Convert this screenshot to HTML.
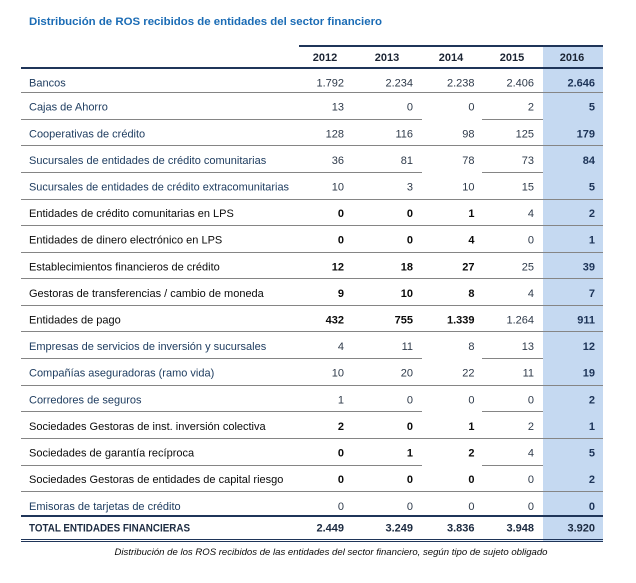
<!DOCTYPE html>
<html><head><meta charset="utf-8"><style>
html,body{margin:0;padding:0;background:#fff;}
svg{display:block;}
text{font-family:"Liberation Sans",Arial,sans-serif;}
.lb{font-size:11px;fill:#1f3d60;}
.lk{font-size:11px;fill:#0a0a0a;}
.n{font-size:11px;fill:#2e3a4a;text-anchor:end;}
.nk{font-size:11px;fill:#0a0a0a;text-anchor:end;font-weight:bold;}
.nb{font-size:11px;fill:#1c3357;text-anchor:end;font-weight:bold;}
.hy{font-size:11px;fill:#1b2433;font-weight:bold;text-anchor:middle;}
</style></head><body>
<svg width="636" height="583" viewBox="0 0 636 583" xmlns="http://www.w3.org/2000/svg" shape-rendering="crispEdges">
<rect x="0" y="0" width="636" height="583" fill="#fff"/>
<rect x="543" y="45" width="60" height="497" fill="#c5d9f1"/>
<text x="29" y="25" font-size="11.4" font-weight="bold" fill="#1b6cb5" textLength="353" lengthAdjust="spacingAndGlyphs">Distribución de ROS recibidos de entidades del sector financiero</text>
<rect x="299" y="45" width="304" height="2" fill="#1f3559"/>
<rect x="21" y="67" width="582" height="2" fill="#1f3559"/>
<text class="hy" x="325" y="61">2012</text>
<text class="hy" x="387" y="61">2013</text>
<text class="hy" x="451" y="61">2014</text>
<text class="hy" x="512" y="61">2015</text>
<text class="hy" x="572" y="61">2016</text>

<g fill="#858585">
<rect x="21" y="92" width="582" height="1"/>
<rect x="21" y="119" width="401" height="1"/><rect x="482" y="119" width="61" height="1"/>
<rect x="21" y="145" width="582" height="1"/>
<rect x="21" y="172" width="401" height="1"/><rect x="482" y="172" width="61" height="1"/>
<rect x="21" y="199" width="582" height="1"/>
<rect x="21" y="225" width="582" height="1"/>
<rect x="21" y="252" width="582" height="1"/>
<rect x="21" y="278" width="582" height="1"/>
<rect x="21" y="305" width="582" height="1"/>
<rect x="21" y="331" width="582" height="1"/>
<rect x="21" y="358" width="401" height="1"/><rect x="482" y="358" width="61" height="1"/>
<rect x="21" y="385" width="582" height="1"/>
<rect x="21" y="411" width="401" height="1"/><rect x="482" y="411" width="61" height="1"/>
<rect x="21" y="438" width="582" height="1"/>
<rect x="21" y="465" width="401" height="1"/><rect x="482" y="465" width="61" height="1"/>
<rect x="21" y="491" width="582" height="1"/>
</g>
<rect x="21" y="515" width="582" height="2" fill="#1f3559"/>
<rect x="21" y="539" width="582" height="1" fill="#1f3559"/>
<rect x="21" y="541" width="582" height="1" fill="#1f3559"/>

<g>
<text class="lb" x="29" y="86.5">Bancos</text>
<text class="n" x="344" y="86.5">1.792</text><text class="n" x="413" y="86.5">2.234</text><text class="n" x="474.5" y="86.5">2.238</text><text class="n" x="534" y="86.5">2.406</text><text class="nb" x="595" y="86.5">2.646</text>

<text class="lb" x="29" y="110.7">Cajas de Ahorro</text>
<text class="n" x="344" y="110.7">13</text><text class="n" x="413" y="110.7">0</text><text class="n" x="474.5" y="110.7">0</text><text class="n" x="534" y="110.7">2</text><text class="nb" x="595" y="110.7">5</text>

<text class="lb" x="29" y="137.3">Cooperativas de crédito</text>
<text class="n" x="344" y="137.3">128</text><text class="n" x="413" y="137.3">116</text><text class="n" x="474.5" y="137.3">98</text><text class="n" x="534" y="137.3">125</text><text class="nb" x="595" y="137.3">179</text>

<text class="lb" x="29" y="163.9">Sucursales de entidades de crédito comunitarias</text>
<text class="n" x="344" y="163.9">36</text><text class="n" x="413" y="163.9">81</text><text class="n" x="474.5" y="163.9">78</text><text class="n" x="534" y="163.9">73</text><text class="nb" x="595" y="163.9">84</text>

<text class="lb" x="29" y="190.5" textLength="260" lengthAdjust="spacingAndGlyphs">Sucursales de entidades de crédito extracomunitarias</text>
<text class="n" x="344" y="190.5">10</text><text class="n" x="413" y="190.5">3</text><text class="n" x="474.5" y="190.5">10</text><text class="n" x="534" y="190.5">15</text><text class="nb" x="595" y="190.5">5</text>

<text class="lk" x="29" y="217.1">Entidades de crédito comunitarias en LPS</text>
<text class="nk" x="344" y="217.1">0</text><text class="nk" x="413" y="217.1">0</text><text class="nk" x="474.5" y="217.1">1</text><text class="n" x="534" y="217.1">4</text><text class="nb" x="595" y="217.1">2</text>

<text class="lk" x="29" y="243.7">Entidades de dinero electrónico en LPS</text>
<text class="nk" x="344" y="243.7">0</text><text class="nk" x="413" y="243.7">0</text><text class="nk" x="474.5" y="243.7">4</text><text class="n" x="534" y="243.7">0</text><text class="nb" x="595" y="243.7">1</text>

<text class="lk" x="29" y="270.3">Establecimientos financieros de crédito</text>
<text class="nk" x="344" y="270.3">12</text><text class="nk" x="413" y="270.3">18</text><text class="nk" x="474.5" y="270.3">27</text><text class="n" x="534" y="270.3">25</text><text class="nb" x="595" y="270.3">39</text>

<text class="lk" x="29" y="296.9">Gestoras de transferencias / cambio de moneda</text>
<text class="nk" x="344" y="296.9">9</text><text class="nk" x="413" y="296.9">10</text><text class="nk" x="474.5" y="296.9">8</text><text class="n" x="534" y="296.9">4</text><text class="nb" x="595" y="296.9">7</text>

<text class="lk" x="29" y="323.5">Entidades de pago</text>
<text class="nk" x="344" y="323.5">432</text><text class="nk" x="413" y="323.5">755</text><text class="nk" x="474.5" y="323.5">1.339</text><text class="n" x="534" y="323.5">1.264</text><text class="nb" x="595" y="323.5">911</text>

<text class="lb" x="29" y="350.1">Empresas de servicios de inversión y sucursales</text>
<text class="n" x="344" y="350.1">4</text><text class="n" x="413" y="350.1">11</text><text class="n" x="474.5" y="350.1">8</text><text class="n" x="534" y="350.1">13</text><text class="nb" x="595" y="350.1">12</text>

<text class="lb" x="29" y="376.7">Compañías aseguradoras (ramo vida)</text>
<text class="n" x="344" y="376.7">10</text><text class="n" x="413" y="376.7">20</text><text class="n" x="474.5" y="376.7">22</text><text class="n" x="534" y="376.7">11</text><text class="nb" x="595" y="376.7">19</text>

<text class="lb" x="29" y="403.3">Corredores de seguros</text>
<text class="n" x="344" y="403.3">1</text><text class="n" x="413" y="403.3">0</text><text class="n" x="474.5" y="403.3">0</text><text class="n" x="534" y="403.3">0</text><text class="nb" x="595" y="403.3">2</text>

<text class="lk" x="29" y="429.9">Sociedades Gestoras de inst. inversión colectiva</text>
<text class="nk" x="344" y="429.9">2</text><text class="nk" x="413" y="429.9">0</text><text class="nk" x="474.5" y="429.9">1</text><text class="n" x="534" y="429.9">2</text><text class="nb" x="595" y="429.9">1</text>

<text class="lk" x="29" y="456.5">Sociedades de garantía recíproca</text>
<text class="nk" x="344" y="456.5">0</text><text class="nk" x="413" y="456.5">1</text><text class="nk" x="474.5" y="456.5">2</text><text class="n" x="534" y="456.5">4</text><text class="nb" x="595" y="456.5">5</text>

<text class="lk" x="29" y="483.1">Sociedades Gestoras de entidades de capital riesgo</text>
<text class="nk" x="344" y="483.1">0</text><text class="nk" x="413" y="483.1">0</text><text class="nk" x="474.5" y="483.1">0</text><text class="n" x="534" y="483.1">0</text><text class="nb" x="595" y="483.1">2</text>

<text class="lb" x="29" y="510.2">Emisoras de tarjetas de crédito</text>
<text class="n" x="344" y="510.2">0</text><text class="n" x="413" y="510.2">0</text><text class="n" x="474.5" y="510.2">0</text><text class="n" x="534" y="510.2">0</text><text class="nb" x="595" y="510.2">0</text>

<text x="29" y="531.5" font-size="10.8" font-weight="bold" fill="#1b2a40" textLength="161" lengthAdjust="spacingAndGlyphs">TOTAL ENTIDADES FINANCIERAS</text>
<text class="nb" x="344" y="531.5" style="fill:#1b2a40">2.449</text><text class="nb" x="413" y="531.5" style="fill:#1b2a40">3.249</text><text class="nb" x="474.5" y="531.5" style="fill:#1b2a40">3.836</text><text class="nb" x="534" y="531.5" style="fill:#1b2a40">3.948</text><text class="nb" x="595" y="531.5" style="fill:#1b2a40">3.920</text>
</g>

<text x="114.5" y="555" font-size="9.6" font-style="italic" fill="#0a0a0a" textLength="433" lengthAdjust="spacingAndGlyphs">Distribución de los ROS recibidos de las entidades del sector financiero, según tipo de sujeto obligado</text>
</svg>
</body></html>
